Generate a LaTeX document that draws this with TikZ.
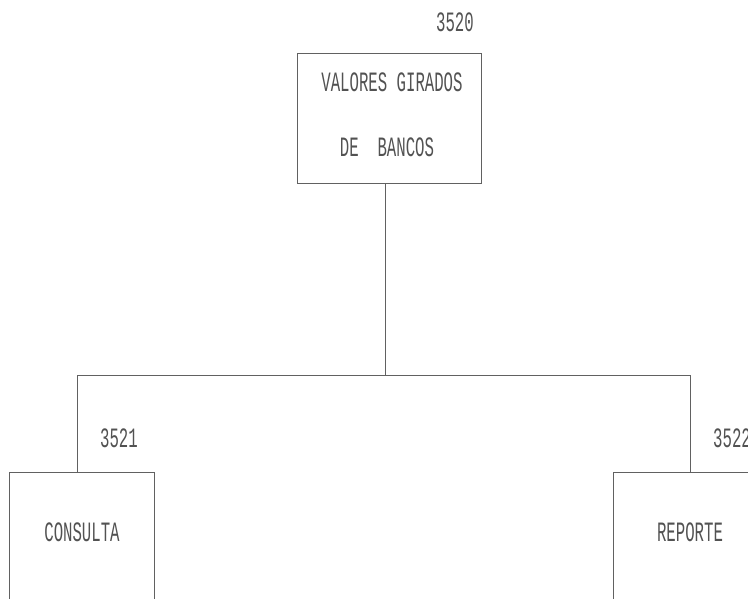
\documentclass[tikz,border=0pt]{standalone}
\usepackage{fontspec}
\newfontfamily\dotfont[FakeStretch=0.56]{Liberation Mono}
\begin{document}
\begin{tikzpicture}[x=1pt,y=-1pt,
  ink/.style={draw=black!62, line width=0.9pt},
  lbl/.style={text=black!68, font=\dotfont\fontsize{28}{32}\selectfont, inner sep=0pt},
  boxnode/.style={ink, rectangle, inner sep=0pt}]
\useasboundingbox (0,0) rectangle (748,598);
\node[boxnode, minimum width=184pt, minimum height=130pt] (top) at (389,118) {};
\node[lbl] (t1) at (392,82) {VALORES GIRADOS};
\node[lbl] (t2) at (387,147) {DE\ \ BANCOS};
\node[boxnode, minimum width=145pt, minimum height=150pt, anchor=north west] (cl) at (9,472) {};
\node[boxnode, minimum width=160pt, minimum height=150pt, anchor=north west] (cr) at (613,472) {};
\node[lbl] (c1) at (82,532) {CONSULTA};
\node[lbl] (c2) at (690,532) {REPORTE};
\node[lbl] (n0) at (455,22) {3520};
\node[lbl] (n1) at (119,438) {3521};
\node[lbl, anchor=west] (n2) at (713,438) {3522};
\coordinate (j) at (385,375);
\coordinate (jl) at (77,375);
\coordinate (jr) at (690,375);
\draw[ink] (top.south -| j) -- (j);
\draw[ink] (jl |- cl.north) -- (jl) -- (jr) -- (jr |- cr.north);
\end{tikzpicture}
\end{document}
